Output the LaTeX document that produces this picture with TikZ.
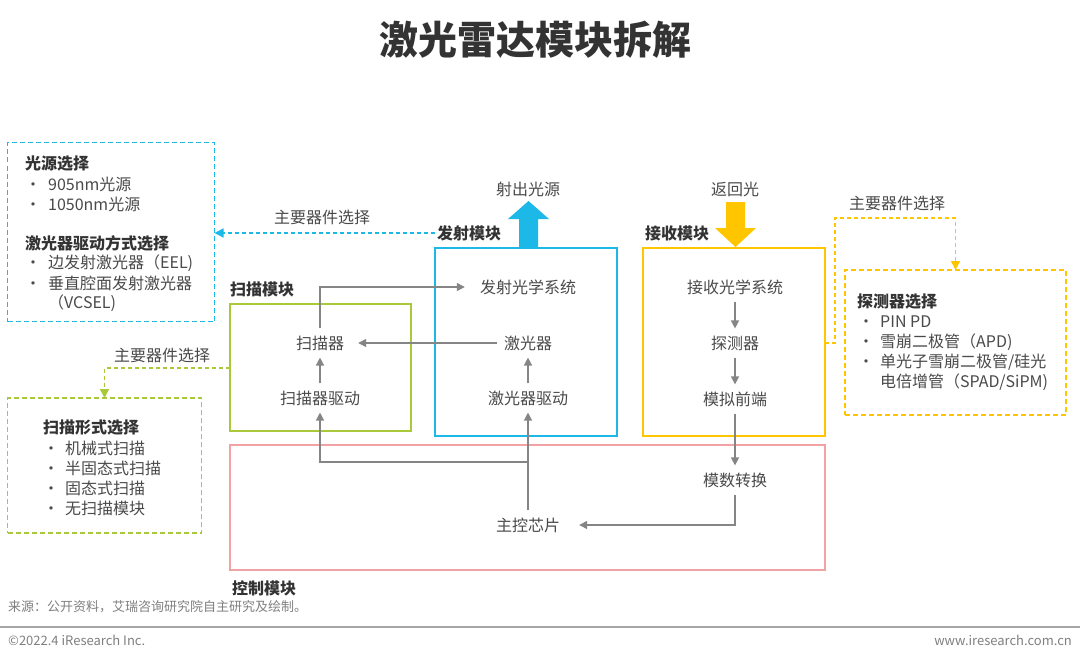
\documentclass[tikz,border=0pt]{standalone}
\usepackage{fontspec}
\setmainfont{Noto Sans CJK SC}
\usetikzlibrary{arrows.meta}
\definecolor{cy}{HTML}{1CB8E8}
\definecolor{gr}{HTML}{A9C93B}
\definecolor{ye}{HTML}{FFC600}
\definecolor{pk}{HTML}{F2A2A4}
\definecolor{ar}{HTML}{858585}
\definecolor{tx}{HTML}{4A4A4A}
\definecolor{hd}{HTML}{333333}
\definecolor{ft}{HTML}{808080}
\tikzset{
  t/.style={font=\fontsize{16}{19}\selectfont, text=tx, inner sep=1pt},
  li/.style={font=\fontsize{16}{19}\selectfont, text=tx, inner sep=0pt, anchor=west},
  hdl/.style={font=\fontsize{16}{19}\selectfont\bfseries, text=hd, inner sep=0pt, anchor=west},
  arr/.style={draw=ar, line width=1.3pt, -{Triangle[length=8pt,width=8pt]}, shorten >=6pt, shorten <=6pt},
  box/.style={draw, line width=2.5pt, inner sep=0pt, outer sep=0pt},
  dbox/.style={draw, line width=1.6pt, dash pattern=on 5pt off 3pt, inner sep=0pt, outer sep=0pt},
  dsh/.style={line width=1.5pt, dash pattern=on 4pt off 3pt, -{Triangle[length=9pt,width=9pt]}},
  ftx/.style={font=\fontsize{13}{15}\selectfont, text=ft, inner sep=0pt}
}
\begin{document}
\begin{tikzpicture}[x=1pt,y=-1pt]
\useasboundingbox[fill=white] (0,0) rectangle (1080,661);

% title
\node[font=\fontsize{39}{44}\selectfont\bfseries, text=hd, inner sep=0pt] (title) at (535,40) {激光雷达模块拆解};

% module boxes
\node[box, draw=gr, minimum width=181, minimum height=127] (sbox) at (320.5,367.5) {};
\node[box, draw=cy, minimum width=182, minimum height=188] (ebox) at (526,342) {};
\node[box, draw=ye, minimum width=182, minimum height=188] (rbox) at (734,342) {};
\node[box, draw=pk, minimum width=595, minimum height=125] (cbox) at (527.5,507.5) {};

% module labels
\node[hdl] (slbl) at (230,289) {扫描模块};
\node[hdl] (elbl) at (437,233) {发射模块};
\node[hdl] (rlbl) at (645,233) {接收模块};
\node[hdl] (clbl) at (232,588) {控制模块};

% big arrows
\fill[cy] (519,248) -- (519,219) -- (508,219) -- (528.5,201) -- (549,219) -- (538,219) -- (538,248) -- cycle;
\fill[ye] (726,202) -- (745,202) -- (745,228) -- (756,228) -- (735.5,247) -- (715,228) -- (726,228) -- cycle;
\node[t] (outl) at (528,189) {射出光源};
\node[t] (inl) at (735,189) {返回光};

% inner nodes
\node[t] (scan) at (320,343) {扫描器};
\node[t] (sdrv) at (320,398) {扫描器驱动};
\node[t] (eopt) at (528,287) {发射光学系统};
\node[t] (laser) at (528,343) {激光器};
\node[t] (ldrv) at (528,398) {激光器驱动};
\node[t] (ropt) at (735,287) {接收光学系统};
\node[t] (det) at (735,343) {探测器};
\node[t] (afe) at (735,399) {模拟前端};
\node[t] (adc) at (735,480) {模数转换};
\node[t] (mcu) at (528,525) {主控芯片};

% connectors
\draw[arr] (sdrv) -- (scan);
\draw[arr, shorten >=14pt] (scan.north) |- (eopt.west);
\draw[arr, shorten >=13pt] (laser.west) -- (scan.east);
\draw[arr] (ldrv) -- (laser);
\draw[arr] (ropt) -- (det);
\draw[arr] (det) -- (afe);
\draw[arr] (afe) -- (adc);
\draw[arr, shorten >=18pt] (adc.south) |- (mcu.east);
\draw[arr] (mcu.north) -- (ldrv.south);
\coordinate (br) at (528,462);
\draw[arr, shorten <=0pt] (br) -| (sdrv.south);

% light source option box
\node[dbox, draw=cy, minimum width=207, minimum height=179] (srcbox) at (111,232) {};
\node[hdl] (h1) at (25,164) {光源选择};
\node[li] (a1) at (25,184) {\makebox[23pt][l]{•}905nm光源};
\node[li] (a2) at (25,204) {\makebox[23pt][l]{•}1050nm光源};
\node[hdl] (h2) at (25,243) {激光器驱动方式选择};
\node[li] (a3) at (25,263) {\makebox[23pt][l]{•}边发射激光器（EEL)};
\node[li] (a4) at (25,283) {\makebox[23pt][l]{•}垂直腔面发射激光器};
\node[li] (a5) at (48,303) {（VCSEL)};
\draw[dsh, draw=cy, shorten <=2pt] (elbl.west) -- (elbl.west -| srcbox.east);
\node[t] (m1) at (322,217) {主要器件选择};

% detector option box
\node[dbox, draw=ye, minimum width=221, minimum height=145] (detbox) at (955.5,342.5) {};
\node[hdl] (h3) at (857,302) {探测器选择};
\node[li] (b1) at (858,322) {\makebox[22pt][l]{•}PIN PD};
\node[li] (b2) at (858,342) {\makebox[22pt][l]{•}雪崩二极管（APD)};
\node[li] (b3) at (858,362) {\makebox[22pt][l]{•}单光子雪崩二极管/硅光};
\node[li] (b4) at (880,382) {电倍增管（SPAD/SiPM)};
\coordinate (yc) at (835,218);
\draw[dsh, draw=ye] (rbox.east |- det) -| (yc) -| (detbox.north);
\node[t] (m2) at (897,203) {主要器件选择};

% scan form option box
\node[dbox, draw=gr, minimum width=194, minimum height=135] (formbox) at (104.5,465.5) {};
\node[hdl] (h4) at (43,428) {扫描形式选择};
\node[li] (c1) at (43,448) {\makebox[22pt][l]{•}机械式扫描};
\node[li] (c2) at (43,468) {\makebox[22pt][l]{•}半固态式扫描};
\node[li] (c3) at (43,488) {\makebox[22pt][l]{•}固态式扫描};
\node[li] (c4) at (43,508) {\makebox[22pt][l]{•}无扫描模块};
\coordinate (gc) at (104,368);
\draw[dsh, draw=gr] (sbox.west |- gc) -| (formbox.north);
\node[t] (m3) at (162,355) {主要器件选择};

% footer
\node[ftx, anchor=west] (src) at (8,607) {来源：公开资料，艾瑞咨询研究院自主研究及绘制。};
\coordinate (l0) at (0,627);
\coordinate (l1) at (1080,627);
\draw[draw=ft!70, line width=1.3pt] (l0) -- (l1);
\node[ftx, anchor=west] (cp) at (8,640) {©2022.4 iResearch Inc.};
\node[ftx, anchor=east] (www) at (1072,640) {www.iresearch.com.cn};
\end{tikzpicture}
\end{document}
